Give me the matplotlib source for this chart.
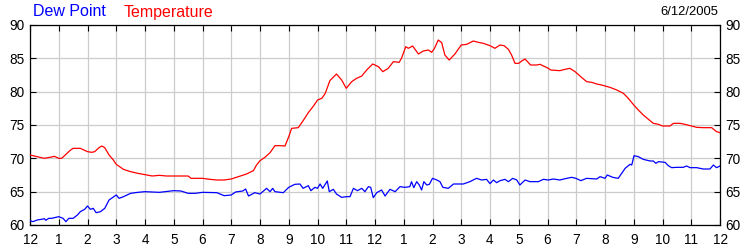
import matplotlib
matplotlib.use("Agg")
import matplotlib.pyplot as plt

plt.rcParams['font.family'] = ['Liberation Sans', 'DejaVu Sans']

hour_labels = ['12', '1', '2', '3', '4', '5', '6', '7', '8', '9', '10', '11',
               '12', '1', '2', '3', '4', '5', '6', '7', '8', '9', '10', '11', '12']
y_ticks = [60, 65, 70, 75, 80, 85, 90]
date_label = "6/12/2005"

temp_h = [0, 0.25, 0.5, 0.75, 0.85, 1.0, 1.1, 1.25, 1.4, 1.5, 1.75, 2.0, 2.15, 2.25, 2.4, 2.5,
          2.6, 2.75, 2.9, 3.0, 3.25, 3.5, 3.75, 4.0, 4.25, 4.5, 4.75, 5.0, 5.5, 5.6, 6.0, 6.25,
          6.5, 6.75, 7.0, 7.25, 7.53, 7.77, 7.88, 8.0, 8.17, 8.35, 8.52, 8.70, 8.87, 9.0, 9.1,
          9.33, 9.5, 9.68, 9.86, 10.0, 10.15, 10.27, 10.43, 10.66, 10.84, 11.0, 11.19, 11.36,
          11.54, 11.71, 11.92, 12.12, 12.27, 12.46, 12.64, 12.84, 12.92, 13.07, 13.16, 13.31,
          13.51, 13.68, 13.86, 13.97, 14.07, 14.2, 14.32, 14.43, 14.58, 14.78, 15.0, 15.19,
          15.42, 15.59, 15.77, 16.0, 16.17, 16.35, 16.49, 16.64, 16.75, 16.87, 17.0, 17.1,
          17.22, 17.41, 17.62, 17.74, 17.86, 18.03, 18.11, 18.43, 18.61, 18.78, 18.96, 19.13,
          19.36, 19.54, 19.71, 19.88, 20.0, 20.17, 20.41, 20.64, 20.81, 21.0, 21.16, 21.33,
          21.51, 21.68, 21.86, 22.0, 22.26, 22.38, 22.61, 22.78, 23.0, 23.19, 23.42, 23.71,
          23.88, 24.0]
temp_v = [70.5, 70.25, 70.0, 70.2, 70.3, 70.0, 70.0, 70.6, 71.2, 71.5, 71.5, 71.0, 70.9, 71.0,
          71.6, 71.85, 71.6, 70.5, 69.75, 69.1, 68.35, 68.0, 67.75, 67.55, 67.35, 67.45, 67.35,
          67.35, 67.35, 67.0, 67.0, 66.85, 66.75, 66.75, 66.9, 67.25, 67.65, 68.15, 69.0, 69.65,
          70.15, 70.85, 71.9, 71.9, 71.85, 73.25, 74.5, 74.6, 75.65, 76.85, 77.85, 78.75, 79.0,
          79.75, 81.65, 82.65, 81.75, 80.5, 81.5, 82.0, 82.35, 83.25, 84.15, 83.75, 83.0, 83.5,
          84.5, 84.4, 85.0, 86.75, 86.5, 86.85, 85.65, 86.1, 86.25, 85.9, 86.5, 87.75, 87.35,
          85.5, 84.75, 85.65, 87.0, 87.1, 87.6, 87.4, 87.25, 86.9, 86.5, 87.0, 86.9, 86.35,
          85.5, 84.25, 84.25, 84.6, 84.9, 84.0, 84.0, 84.1, 83.85, 83.5, 83.25, 83.15, 83.35,
          83.5, 83.0, 82.35, 81.5, 81.4, 81.15, 81.0, 80.85, 80.65, 80.25, 79.75, 79.0, 78.0,
          77.25, 76.5, 75.85, 75.25, 75.1, 74.85, 74.85, 75.25, 75.25, 75.1, 74.85, 74.65,
          74.6, 74.6, 74.0, 73.85]

dew_h = [0, 0.1, 0.25, 0.4, 0.5, 0.55, 0.65, 0.75, 0.9, 1.0, 1.15, 1.25, 1.35, 1.5, 1.65, 1.75,
         1.9, 2.0, 2.1, 2.2, 2.3, 2.45, 2.6, 2.75, 3.0, 3.1, 3.25, 3.5, 3.75, 4.0, 4.5, 5.0,
         5.25, 5.5, 5.75, 6.0, 6.5, 6.75, 7.0, 7.15, 7.4, 7.5, 7.6, 7.82, 8.0, 8.23, 8.35,
         8.44, 8.52, 8.81, 9.0, 9.21, 9.39, 9.5, 9.68, 9.77, 9.91, 10.0, 10.09, 10.18, 10.34,
         10.41, 10.55, 10.66, 10.84, 11.01, 11.13, 11.25, 11.39, 11.54, 11.65, 11.77, 11.85,
         11.94, 12.06, 12.23, 12.35, 12.52, 12.7, 12.87, 13.04, 13.21, 13.27, 13.35, 13.45,
         13.54, 13.62, 13.70, 13.8, 13.89, 14.0, 14.15, 14.26, 14.36, 14.55, 14.73, 15.07,
         15.3, 15.53, 15.71, 15.88, 16.0, 16.12, 16.23, 16.35, 16.52, 16.64, 16.79, 16.93,
         17.04, 17.22, 17.39, 17.68, 17.86, 18.03, 18.2, 18.43, 18.67, 18.84, 18.99, 19.16,
         19.36, 19.71, 19.83, 20.0, 20.08, 20.27, 20.46, 20.58, 20.70, 20.87, 20.93, 21.01,
         21.16, 21.33, 21.57, 21.68, 21.77, 21.86, 22.09, 22.2, 22.32, 22.49, 22.72, 22.84,
         22.96, 23.19, 23.42, 23.65, 23.77, 23.88, 24.0]
dew_v = [60.65, 60.5, 60.75, 60.85, 60.95, 60.7, 61.0, 61.0, 61.15, 61.25, 61.0, 60.5, 61.0,
         61.0, 61.5, 62.0, 62.35, 62.85, 62.35, 62.5, 61.85, 62.0, 62.5, 63.75, 64.5, 64.0,
         64.25, 64.75, 64.9, 65.0, 64.9, 65.15, 65.1, 64.75, 64.75, 64.9, 64.85, 64.4, 64.5,
         64.95, 65.1, 65.4, 64.35, 64.85, 64.65, 65.5, 65.0, 65.5, 65.0, 64.85, 65.65, 66.1,
         66.15, 65.5, 65.9, 65.15, 65.65, 65.5, 66.15, 65.5, 66.6, 65.0, 65.35, 64.65, 64.15,
         64.25, 64.25, 65.5, 65.15, 65.5, 65.0, 65.75, 65.65, 64.1, 64.85, 65.25, 64.35, 65.35,
         65.0, 65.75, 65.65, 65.75, 66.5, 65.6, 66.5, 66.0, 65.25, 66.5, 66.0, 66.1, 67.0,
         66.75, 66.5, 65.65, 65.5, 66.15, 66.15, 66.5, 67.0, 66.75, 66.85, 66.2, 66.75, 66.35,
         66.65, 66.85, 66.5, 67.0, 66.75, 66.0, 66.75, 66.5, 66.5, 66.85, 66.75, 66.9, 66.75,
         67.0, 67.15, 67.0, 66.65, 67.0, 66.9, 67.25, 67.0, 67.5, 67.15, 67.0, 67.75, 68.5,
         69.1, 69.0, 70.4, 70.25, 69.85, 69.6, 69.6, 69.25, 69.5, 69.4, 68.9, 68.6, 68.65,
         68.65, 68.85, 68.6, 68.6, 68.4, 68.4, 69.0, 68.6, 68.85]

fig = plt.figure(figsize=(7.5, 2.5), dpi=100)
ax = fig.add_axes([30 / 750, 25 / 250, 690 / 750, 200 / 250])

ax.plot(temp_h, temp_v, color='#ff0000', lw=0.9, zorder=3)
ax.plot(dew_h, dew_v, color='#0000ff', lw=0.9, zorder=3)

ax.set_xlim(0, 24)
ax.set_ylim(60, 90)
ax.set_xticks(range(25))
ax.set_xticklabels(hour_labels)
ax.set_yticks(y_ticks)
ax.set_yticklabels([str(v) for v in y_ticks])
ax.grid(True, color='#cccccc', lw=0.9, zorder=1)
ax.tick_params(direction='in', length=4, width=0.8, color='black', labelsize=9.8,
               top=True, right=True, labelright=True, pad=4)
ax.tick_params(axis='x', pad=6)
for s in ax.spines.values():
    s.set_color('black')
    s.set_linewidth(0.9)

fig.text(33 / 750, 1 - 12 / 250, "Dew Point", color='#0000ff', fontsize=11.5, va='center', ha='left')
fig.text(124 / 750, 1 - 12 / 250, "Temperature", color='#ff0000', fontsize=11.5, va='center', ha='left')
fig.text(718 / 750, 1 - 12 / 250, date_label, color='black', fontsize=9.4, va='center', ha='right')

fig.savefig("out.png", dpi=100, facecolor='white')
